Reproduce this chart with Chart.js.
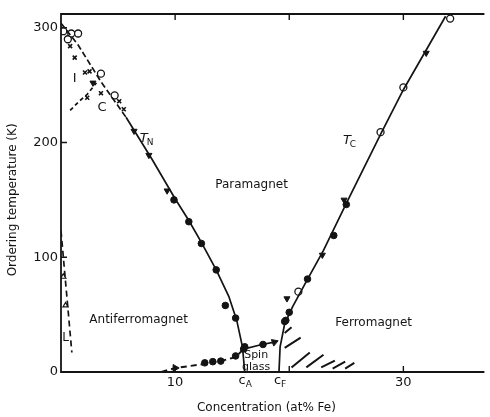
<!DOCTYPE html>
<html><head><meta charset="utf-8">
<script src="https://cdn.jsdelivr.net/npm/chart.js@4"></script>
<style>html,body{margin:0;background:#fff}</style>
</head><body>
<canvas id="c" width="490" height="417"></canvas>
<script>
// Fe concentration (at%) vs ordering temperature (K)
const tnDashed = [[0,304],[1.5,285],[3.5,253],[5.7,222]];
const tnSolid  = [[5.7,222],[8,185],[10,151],[11.2,132],[12.3,113],[13.6,89],[14.7,66],[15.4,45],[15.9,22],[16.1,0]];
const icCurve  = [[0.8,228],[1.6,236],[2.3,242],[3.1,252]];
const lLine    = [[0,123],[0.95,17]];
const sgDashed = [[8.8,0],[10,3.5],[12.6,7],[14,9.5],[15.3,13],[16,20]];
const sgSolid  = [[16,20],[17.6,24],[18.7,26]];
const tcLine   = [[19.1,0],[19.2,22],[19.6,42],[20.3,57],[21.5,79],[23,106],[25,147],[28,207],[30,246],[33.7,310]];
const hatches  = [[[19.6,34],[20.2,39]],[[19.6,21],[21,30]],[[20.2,4],[21.8,17]],[[21.5,4],[23,15]],
                  [[22.8,4],[24,10]],[[23.8,3],[24.9,9]],[[24.9,3],[25.7,8]]];

const filledCircles = [[9.9,150],[11.2,131],[12.3,112],[13.6,89],[14.4,58],[15.3,47],
                       [12.6,8],[13.3,9],[14,9.5],[15.3,14],[16,20],[16.1,22],[17.7,24],
                       [19.6,44],[20,52],[19.7,45],[21.6,81],[23.9,119],[25,146]];
const openCircles   = [[0.2,297],[0.9,295],[1.5,295],[0.6,290],[3.5,260],[4.7,241],
                       [20.8,70],[28,209],[30,248],[34.1,308]];
const triangles     = [[2.8,252],[6.4,210],[7.7,189],[9.3,158],[19.8,64],[22.9,102],[24.8,150],[32,278]];
const crosses       = [[0.8,284],[1.2,274],[2.1,261],[2.5,262],[3.5,243],[5.1,236],[5.5,229],[2.3,239]];
const lTriangles    = [[0.2,83],[0.4,58]];
const arrowHeads    = [[10,3.5,90],[18.7,26,70]];

const xTicks = [10, 30];
const yTicks = [0, 100, 200, 300];
const tickMarksX = [10, 20, 30];
const tickMarksY = [100, 200, 300];

const regionLabels = [
  {t:'Paramagnet', x:16.7, y:163, size:12},
  {t:'Antiferromagnet', x:6.8, y:45, size:12},
  {t:'Ferromagnet', x:27.4, y:43, size:12},
  {t:'Spin', x:17.1, y:15, size:11},
  {t:'glass', x:17.1, y:4.5, size:11},
  {t:'T', sub:'N', x:7.6, y:203, size:13, italic:true},
  {t:'T', sub:'C', x:25.4, y:202, size:13, italic:true},
  {t:'I', x:1.2, y:256, size:13},
  {t:'C', x:3.6, y:230, size:13},
  {t:'L', x:0.4, y:30, size:12}
];
const axisSubLabels = [{t:'c', sub:'A', x:16.1}, {t:'c', sub:'F', x:19.2}];

const INK = '#141414';
const pts = (arr)=> arr.map(p=>({x:p[0], y:p[1]}));
function segs(list){
  const out = [];
  list.forEach(s=>{ out.push({x:s[0][0],y:s[0][1]}, {x:s[1][0],y:s[1][1]}, {x:s[1][0],y:null}); });
  return out;
}
const lineDs = (data, dash, w)=>({ data: pts(data), showLine:true, borderColor:INK, borderWidth:w||1.7,
  borderDash:dash||[], pointRadius:0, tension:0, spanGaps:false });

const decor = {
  id:'decor',
  afterDraw(chart){
    const {ctx, chartArea:a, scales:{x, y}} = chart;
    ctx.save();
    ctx.strokeStyle = INK; ctx.lineWidth = 1.8;
    ctx.beginPath();
    ctx.moveTo(a.right, a.top); ctx.lineTo(a.left, a.top); ctx.lineTo(a.left, a.bottom); ctx.lineTo(a.right, a.bottom);
    ctx.stroke();
    ctx.lineWidth = 1.4;
    ctx.beginPath();
    tickMarksX.forEach(v=>{
      const px = x.getPixelForValue(v);
      ctx.moveTo(px, a.bottom); ctx.lineTo(px, a.bottom-6);
      ctx.moveTo(px, a.top); ctx.lineTo(px, a.top+6);
    });
    tickMarksY.forEach(v=>{
      const py = y.getPixelForValue(v);
      ctx.moveTo(a.left, py); ctx.lineTo(a.left+6, py);
    });
    ctx.stroke();

    ctx.fillStyle = INK;
    ctx.textBaseline = 'middle';
    regionLabels.forEach(l=>{
      const px = x.getPixelForValue(l.x), py = y.getPixelForValue(l.y);
      ctx.font = (l.italic?'italic ':'') + l.size + 'px "DejaVu Sans"';
      if(l.sub){
        const w = ctx.measureText(l.t).width;
        ctx.textAlign = 'left';
        ctx.fillText(l.t, px-w, py);
        ctx.font = (l.size-4) + 'px "DejaVu Sans"';
        ctx.fillText(l.sub, px-1, py+4);
      } else {
        ctx.textAlign = 'center';
        ctx.fillText(l.t, px, py);
      }
    });
    axisSubLabels.forEach(l=>{
      const px = x.getPixelForValue(l.x);
      ctx.font = '13px "DejaVu Sans"'; ctx.textAlign = 'right';
      ctx.fillText(l.t, px+1, a.bottom+9);
      ctx.font = '9px "DejaVu Sans"'; ctx.textAlign = 'left';
      ctx.fillText(l.sub, px+1, a.bottom+13);
    });

    ctx.font = '12px "DejaVu Sans"'; ctx.textAlign = 'center';
    ctx.fillText('Concentration (at% Fe)', x.getPixelForValue(18), a.bottom+36);
    ctx.translate(13, y.getPixelForValue(150));
    ctx.rotate(-Math.PI/2);
    ctx.fillText('Ordering temperature (K)', 0, 0);
    ctx.restore();
  }
};

new Chart(document.getElementById('c'), {
  type:'scatter',
  data:{ datasets:[
    lineDs(tnDashed, [6,3]),
    lineDs(tnSolid),
    lineDs(icCurve, [4,3]),
    lineDs(lLine, [6,4]),
    lineDs(sgDashed, [6,4], 2),
    lineDs(sgSolid),
    lineDs(tcLine),
    { data: segs(hatches), showLine:true, borderColor:INK, borderWidth:2, pointRadius:0, spanGaps:false },
    { data: pts(filledCircles), pointStyle:'circle', pointRadius:3.3, backgroundColor:INK, borderColor:INK },
    { data: pts(openCircles), pointStyle:'circle', pointRadius:3.5, backgroundColor:'#fff', borderColor:INK, borderWidth:1.3 },
    { data: pts(triangles), pointStyle:'triangle', pointRotation:180, pointRadius:3.5, backgroundColor:INK, borderColor:INK },
    { data: pts(crosses), pointStyle:'crossRot', pointRadius:2.8, borderColor:INK, borderWidth:1.6 },
    { data: pts(lTriangles), pointStyle:'triangle', pointRadius:3, backgroundColor:'#fff', borderColor:INK, borderWidth:1.2 },
    { data: arrowHeads.map(p=>({x:p[0], y:p[1]})), pointStyle:'triangle', rotation:arrowHeads.map(p=>p[2]),
      pointRadius:4, backgroundColor:INK, borderColor:INK }
  ]},
  options:{
    responsive:false, animation:false,
    layout:{ padding:{ top:14, right:0, left:0, bottom:0 } },
    plugins:{ legend:{ display:false }, tooltip:{ enabled:false } },
    scales:{
      x:{ type:'linear', min:0, max:37.1,
          afterFit:(s)=>{ s.height = 45; },
          afterBuildTicks:(s)=>{ s.ticks = xTicks.map(v=>({value:v})); },
          grid:{ display:false, drawTicks:false }, border:{ display:false },
          ticks:{ color:INK, font:{ family:'DejaVu Sans', size:13 }, padding:3 } },
      y:{ type:'linear', min:0, max:312,
          afterFit:(s)=>{ s.width = 61; },
          afterBuildTicks:(s)=>{ s.ticks = yTicks.map(v=>({value:v})); },
          grid:{ display:false, drawTicks:false }, border:{ display:false },
          ticks:{ color:INK, font:{ family:'DejaVu Sans', size:13 }, padding:3 } }
    }
  },
  plugins:[decor]
});
</script></body></html>
